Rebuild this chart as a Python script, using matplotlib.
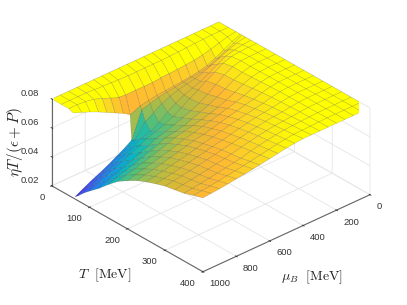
import numpy as np
import matplotlib
matplotlib.use("Agg")
import matplotlib.pyplot as plt
from matplotlib.colors import LinearSegmentedColormap
from mpl_toolkits.mplot3d.art3d import Poly3DCollection

plt.rcParams['font.family'] = ['Liberation Sans', 'DejaVu Sans']
plt.rcParams['mathtext.fontset'] = 'cm'

T_vals = [0, 25, 45, 57, 61, 70, 85, 100, 125, 150, 175, 200, 225, 250, 275, 300, 325, 350, 375, 400]
mu_vals = [1000, 950, 900, 850, 800, 750, 700, 660, 600, 550, 500, 450, 400, 350, 300, 250, 200, 150, 100, 50, 0]

# one list per mu_vals entry, values along T_vals
z_1000 = [.08, .08, .08, .0788, .0214, .0235, .0277, .0312, .0368, .0432, .049, .0532, .057, .0598, .0622, .0643, .0655, .0668, .069, .071]
z_950 = [.08, .08, .08, .0765, .0245, .0265, .0305, .0338, .0391, .0452, .0506, .0546, .0582, .0609, .0632, .0652, .0663, .0675, .0696, .0715]
z_900 = [.08, .08, .0795, .0742, .0275, .0294, .0332, .0363, .0413, .0471, .0522, .056, .0595, .0619, .0641, .066, .0671, .0682, .0702, .072]
z_850 = [.08, .08, .0785, .0715, .0301, .0319, .0355, .0385, .0433, .0488, .0538, .0574, .0607, .0631, .0652, .067, .068, .0691, .071, .0727]
z_800 = [.08, .0795, .0765, .0685, .033, .0347, .0381, .041, .0456, .0508, .0555, .0589, .0621, .0643, .0663, .068, .069, .0701, .0719, .0735]
z_750 = [.08, .0792, .074, .0655, .0362, .0378, .041, .0437, .048, .0529, .0573, .0605, .0635, .0656, .0675, .0691, .07, .071, .0727, .0742]
z_700 = [.08, .079, .072, .0625, .0395, .041, .044, .0465, .0505, .0551, .0592, .0622, .065, .067, .0687, .0702, .0711, .072, .0736, .075]
z_660 = [.08, .0788, .0715, .0595, .0426, .044, .0468, .0492, .0529, .0572, .061, .0638, .0664, .0682, .0698, .0712, .0721, .0729, .0744, .0757]
z_600 = [.08, .0785, .0715, .0625, .0605, .0535, .0488, .0512, .0547, .0583, .0625, .0652, .0676, .0696, .0711, .0725, .0737, .0747, .0756, .0768]
z_550 = [.08, .0785, .0715, .0635, .062, .057, .0525, .0531, .0566, .0596, .0636, .0668, .069, .0711, .0724, .0738, .0749, .0759, .0767, .0778]
z_500 = [.08, .0785, .0715, .0645, .0635, .0605, .057, .056, .0588, .0617, .065, .0681, .0705, .0724, .0738, .075, .0761, .0769, .0778, .0788]
z_450 = [.08, .0785, .072, .065, .0645, .063, .0605, .0595, .0611, .0639, .0666, .0697, .0719, .0736, .075, .076, .077, .0779, .0786, .0795]
z_400 = [.08, .0785, .0722, .0655, .0652, .0648, .0635, .0632, .0637, .0662, .0683, .0713, .0732, .0747, .0761, .0771, .0779, .0786, .0792, .08]
z_350 = [.08, .0787, .0725, .066, .066, .0662, .0655, .0665, .0672, .069, .0706, .0729, .0747, .0758, .0769, .0777, .0783, .079, .0794, .08]
z_300 = [.08, .079, .073, .0665, .0668, .0672, .0675, .07, .0713, .072, .0733, .0748, .076, .0769, .0778, .0783, .0788, .0793, .0796, .08]
z_250 = [.08, .0792, .0735, .0675, .0675, .069, .0705, .0735, .0752, .0755, .0762, .0771, .0778, .0784, .0788, .0791, .0794, .0796, .0798, .08]
z_200 = [.08, .0795, .0745, .069, .069, .0715, .074, .077, .0783, .0781, .0785, .0788, .0792, .0795, .0796, .0797, .0798, .0799, .08, .08]
z_150 = [.08, .0797, .0758, .0715, .0715, .074, .077, .079, .0797, .0795, .0796, .0798, .0799, .08, .08, .08, .08, .08, .08, .08]
z_100 = [.08, .08, .0775, .0745, .0745, .0765, .0785, .0795, .08, .08, .08, .08, .08, .08, .08, .08, .08, .08, .08, .08]
z_50 = [.08, .08, .079, .0775, .077, .0785, .0795, .08, .08, .08, .08, .08, .08, .08, .08, .08, .08, .08, .08, .08]
z_0 = [.08] * 20

T_ticks = [0, 100, 200, 300, 400]
mu_ticks = [0, 200, 400, 600, 800, 1000]
z_ticks = [0.02, 0.04, 0.06, 0.08]

Z = np.array([z_1000, z_950, z_900, z_850, z_800, z_750, z_700, z_660, z_600, z_550, z_500,
              z_450, z_400, z_350, z_300, z_250, z_200, z_150, z_100, z_50, z_0])

cmap = LinearSegmentedColormap.from_list("surf", [
    (0.0, (0.24, 0.15, 0.80)),
    (0.12, (0.25, 0.30, 0.97)),
    (0.28, (0.10, 0.55, 0.90)),
    (0.42, (0.02, 0.72, 0.75)),
    (0.56, (0.35, 0.75, 0.45)),
    (0.73, (0.80, 0.73, 0.22)),
    (0.84, (1.00, 0.72, 0.20)),
    (0.93, (0.98, 0.86, 0.13)),
    (1.0, (1.00, 1.00, 0.00)),
])

fig = plt.figure(figsize=(4.07, 3.05), dpi=100)
ax = fig.add_axes([0.008, 0.005, 1, 1], projection='3d')
ax.set_proj_type('ortho')
ax.view_init(elev=30.8, azim=-42)
ax.set_box_aspect((225.7, 224.7, 101), zoom=1.064)

polys = []
cols = []
for j in range(len(mu_vals) - 1):
    for i in range(len(T_vals) - 1):
        # the surface jumps between these two T rows, no cell there
        if T_vals[i] == 57 and mu_vals[j + 1] >= 660:
            continue
        polys.append([(T_vals[i], mu_vals[j], Z[j, i]),
                      (T_vals[i + 1], mu_vals[j], Z[j, i + 1]),
                      (T_vals[i + 1], mu_vals[j + 1], Z[j + 1, i + 1]),
                      (T_vals[i], mu_vals[j + 1], Z[j + 1, i])])
        zm = (Z[j, i] + Z[j, i + 1] + Z[j + 1, i + 1] + Z[j + 1, i]) / 4
        # low T side reads warmer in the reference than its height gives
        if T_vals[i + 1] <= 61:
            zm = min(zm + 0.004, 0.08)
        cols.append(cmap((zm - 0.02) / 0.06))

surf = Poly3DCollection(polys, facecolors=cols, edgecolors=(0, 0, 0, 0.22), linewidths=0.35)
ax.add_collection3d(surf)

ax.set_xlim(0, 400)
ax.set_ylim(1000, 0)
ax.set_zlim(0.02, 0.08)
ax.set_xticks(T_ticks)
ax.set_yticks(mu_ticks)
ax.set_zticks(z_ticks)
ax.set_zticklabels(['0.02', '0.04', '0.06', '0.08'])
ax.zaxis.set_ticks_position('upper')

for axis in (ax.xaxis, ax.yaxis, ax.zaxis):
    axis.set_pane_color((1, 1, 1, 1))
    axis.pane.set_edgecolor((1, 1, 1, 0))
    axis.line.set_color('#666666')
    axis.line.set_linewidth(0.8)
    axis._axinfo['grid']['color'] = '#e6e6e6'
    axis._axinfo['grid']['linewidth'] = 0.6
    axis._axinfo['tick']['color'] = '#666666'
    axis._axinfo['tick']['linewidth'] = {True: 0.6, False: 0.4}
    axis._axinfo['tick']['inward_factor'] = 0.08
    axis._axinfo['tick']['outward_factor'] = 0.06
ax.tick_params(axis='both', labelsize=6.8, colors='#333333', pad=-3)
ax.tick_params(axis='z', labelsize=6.8, colors='#333333', pad=0)

for lab in ax.xaxis.get_ticklabels():
    lab.set_ha('right')
for lab in ax.yaxis.get_ticklabels():
    lab.set_ha('left')
for lab in ax.zaxis.get_ticklabels():
    lab.set_va('bottom')

fig.text(105 / 407, 1 - 275 / 305, r'$T\ \ [\mathrm{MeV}]$', fontsize=10, ha='center', va='center', color='#222222')
fig.text(312 / 407, 1 - 277 / 305, r'$\mu_B\ \ [\mathrm{MeV}]$', fontsize=10, ha='center', va='center', color='#222222')
fig.text(15 / 407, 1 - 142 / 305, r'$\eta T/(\epsilon+P)$', fontsize=11, rotation=90, ha='center', va='center', color='#222222')

fig.savefig('out.png', dpi=100)
